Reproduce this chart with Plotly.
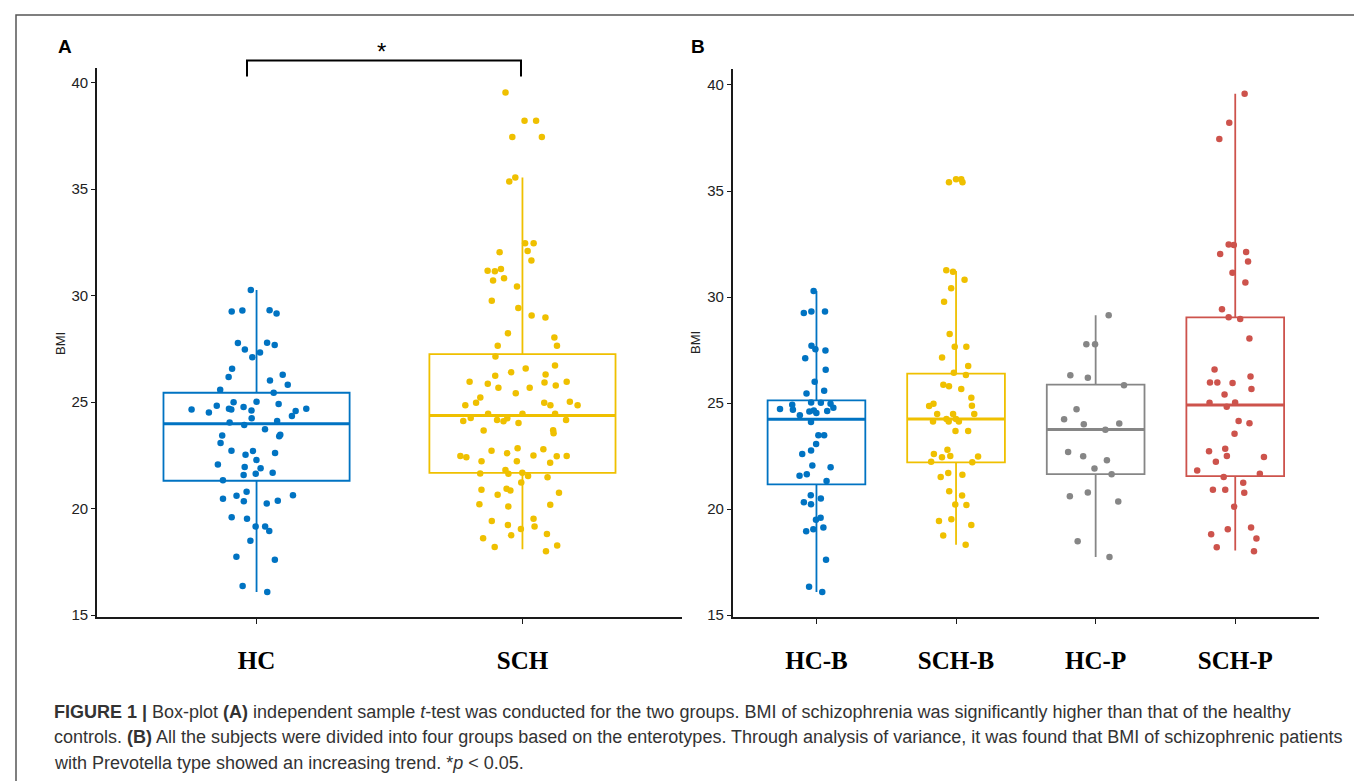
import plotly.graph_objects as go

W, H = 1362, 781


def px(x):
    return x / W


def py(y):
    return 1 - y / H


# ---------------- data ----------------
groups_a = ["HC", "SCH"]
hc_a = [30.26, 29.31, 29.16, 29.25, 29.30, 27.79, 27.68, 27.78, 27.47, 27.33, 27.11, 26.57,
        26.18, 26.29, 26.02, 25.82, 25.58, 25.44, 25.00, 25.02, 24.77, 24.69, 24.61, 24.65,
        24.91, 24.83, 24.65, 24.69, 24.58, 24.51, 24.35, 24.24, 24.12, 24.04, 23.93, 23.73,
        23.47, 23.44, 23.40, 23.08, 22.71, 22.72, 22.61, 22.53, 22.29, 22.07, 21.96, 21.90,
        21.64, 21.68, 21.58, 21.33, 20.79, 20.61, 20.63, 20.47, 20.35, 20.24, 20.37, 19.60,
        19.53, 19.16, 19.16, 18.95, 18.49, 17.74, 17.60, 16.37, 16.09]
sch_a = [39.53, 38.21, 38.21, 37.44, 37.44, 35.54, 35.36, 32.46, 32.46, 32.10, 32.04, 31.65,
         31.25, 31.17, 31.14, 30.81, 30.71, 30.43, 29.76, 29.42, 29.07, 28.97, 28.23, 28.04,
         27.65, 27.65, 27.14, 26.72, 26.58, 26.40, 26.30, 26.24, 25.96, 25.92, 25.86, 25.96,
         25.78, 25.67, 25.67, 25.42, 25.22, 25.02, 24.97, 24.97, 24.85, 24.85, 24.85, 24.46,
         24.46, 24.46, 24.24, 24.26, 24.12, 24.16, 24.16, 24.10, 24.02, 23.67, 23.68, 23.54,
         22.83, 22.79, 22.72, 22.60, 22.47, 22.47, 22.50, 22.46, 22.41, 22.23, 22.23, 22.16,
         21.82, 21.68, 21.65, 21.64, 21.53, 21.48, 21.23, 20.85, 20.89, 20.75, 20.93, 20.65,
         20.21, 20.10, 20.18, 19.53, 19.42, 19.23, 19.16, 19.05, 18.81, 18.75, 18.61, 18.27,
         18.20, 18.00]
q1_a = [21.31, 21.68]
med_a = [23.98, 24.37]
q3_a = [25.44, 27.25]
lo_a = [16.09, 18.10]
hi_a = [30.26, 35.54]

groups_b = ["HC-B", "SCH-B", "HC-P", "SCH-P"]
hc_b = [30.28, 29.32, 29.25, 29.32, 27.70, 27.48, 27.54, 27.12, 26.57, 26.01, 25.58, 25.45,
        25.02, 24.97, 25.03, 24.78, 24.72, 24.60, 24.92, 24.63, 24.53, 24.43, 24.65, 24.69,
        24.11, 23.48, 23.48, 23.07, 22.76, 22.60, 22.06, 21.98, 21.64, 21.57, 21.33, 20.65,
        20.50, 20.23, 20.33, 19.60, 19.50, 18.96, 19.05, 19.14, 17.62, 16.34, 16.09]
sch_b = [35.56, 35.41, 35.56, 35.41, 31.26, 31.19, 30.81, 30.42, 29.78, 28.26, 27.66, 27.66,
         27.15, 26.75, 26.43, 26.33, 25.87, 25.79, 25.67, 25.25, 24.97, 24.88, 24.86, 24.49,
         24.49, 24.49, 24.25, 24.13, 24.13, 24.13, 24.25, 23.68, 23.69, 22.80, 22.60, 22.48,
         22.45, 22.51, 22.21, 22.24, 21.70, 21.62, 21.51, 20.84, 20.64, 20.19, 20.22, 19.44,
         19.52, 19.25, 18.76, 18.32]
hc_p = [29.14, 27.78, 27.78, 26.20, 26.31, 25.84, 24.71, 24.24, 24.04, 24.00, 23.74, 22.70,
        22.50, 22.31, 21.92, 21.65, 20.78, 20.61, 20.36, 18.49, 17.74]
sch_p = [39.58, 38.22, 37.45, 32.48, 32.46, 32.12, 32.03, 31.68, 31.14, 30.69, 29.43, 29.05,
         28.96, 28.04, 26.59, 26.25, 25.95, 25.97, 25.67, 25.97, 25.41, 25.02, 25.03, 24.83,
         24.16, 24.05, 23.55, 22.85, 22.73, 22.51, 22.46, 22.23, 21.82, 21.67, 21.51, 21.25,
         20.92, 20.77, 20.92, 20.11, 19.14, 19.05, 18.62, 18.82, 18.20, 18.01]
q1_b = [21.17, 22.21, 21.65, 21.56]
med_b = [24.24, 24.25, 23.76, 24.91]
q3_b = [25.13, 26.39, 25.87, 29.04]
lo_b = [16.09, 18.32, 17.74, 18.05]
hi_b = [30.28, 31.23, 29.14, 39.58]

y_ticks = [15, 20, 25, 30, 35, 40]

colors_a = ["#0073C2", "#EFC000"]
colors_b = ["#0073C2", "#EFC000", "#868686", "#CD534C"]

caption = [
    "<b>FIGURE 1 |</b> Box-plot <b>(A)</b> independent sample <i>t</i>-test was conducted for the two groups. "
    "BMI of schizophrenia was significantly higher than that of the healthy",
    "controls. <b>(B)</b> All the subjects were divided into four groups based on the enterotypes. "
    "Through analysis of variance, it was found that BMI of schizophrenic patients",
    "with Prevotella type showed an increasing trend. *<i>p</i> &lt; 0.05.",
]

# ---------------- figure ----------------
fig = go.Figure()
BOXW = 0.7


def add_group(name, vals, q1, med, q3, lo, hi, color, xa, ya):
    # box + whiskers
    fig.add_trace(go.Box(
        x=[name], q1=[q1], median=[med], q3=[q3], lowerfence=[lo], upperfence=[hi],
        boxpoints=False, width=BOXW, whiskerwidth=0,
        fillcolor="rgba(0,0,0,0)", line=dict(color=color, width=1.8),
        xaxis=xa, yaxis=ya, showlegend=False, hoverinfo="skip"))
    # thicker median line
    fig.add_trace(go.Box(
        x=[name], q1=[med], median=[med], q3=[med], lowerfence=[med], upperfence=[med],
        boxpoints=False, width=BOXW, whiskerwidth=0,
        fillcolor="rgba(0,0,0,0)", line=dict(color=color, width=3),
        xaxis=xa, yaxis=ya, showlegend=False, hoverinfo="skip"))
    # jittered points
    fig.add_trace(go.Box(
        x=[name] * len(vals), y=vals, boxpoints="all", jitter=0.8, pointpos=0,
        width=BOXW, fillcolor="rgba(0,0,0,0)", line=dict(color=color, width=0),
        marker=dict(color=color, size=6.5, line=dict(width=0)),
        xaxis=xa, yaxis=ya, showlegend=False, hoveron="points"))


vals_a = [hc_a, sch_a]
for i, g in enumerate(groups_a):
    add_group(g, vals_a[i], q1_a[i], med_a[i], q3_a[i], lo_a[i], hi_a[i], colors_a[i], "x", "y")

vals_b = [hc_b, sch_b, hc_p, sch_p]
for i, g in enumerate(groups_b):
    add_group(g, vals_b[i], q1_b[i], med_b[i], q3_b[i], lo_b[i], hi_b[i], colors_b[i], "x2", "y2")

axis_common = dict(showline=True, linecolor="#1a1a1a", linewidth=1.6, showgrid=False,
                   zeroline=False, ticks="outside", tickcolor="#1a1a1a", tickwidth=1.2)
xfont = dict(family="Liberation Serif, Times New Roman, serif", size=25, color="#000000",
             weight="bold")
yfont = dict(family="Liberation Sans Narrow, Arial Narrow, Liberation Sans, Arial", size=15,
             color="#222222")

fig.update_layout(
    width=W, height=H, margin=dict(l=0, r=0, t=0, b=0),
    paper_bgcolor="white", plot_bgcolor="white", boxmode="overlay", showlegend=False,
    xaxis=dict(domain=[px(89), px(674)], type="category", categoryorder="array",
               categoryarray=groups_a, range=[-0.6, 1.6], anchor="y", ticklen=5,
               tickfont=xfont, ticklabelstandoff=15, **axis_common),
    yaxis=dict(domain=[py(614.4), py(60.2)], range=[14.92, 40.70], anchor="x",
               tickvals=y_ticks, ticklen=4, tickfont=yfont, **axis_common),
    xaxis2=dict(domain=[px(724.7), px(1311)], type="category", categoryorder="array",
                categoryarray=groups_b, range=[-0.6, 3.6], anchor="y2", ticklen=5,
                tickfont=xfont, ticklabelstandoff=15, **axis_common),
    yaxis2=dict(domain=[py(614.4), py(61.6)], range=[14.92, 40.75], anchor="x2",
                tickvals=y_ticks, ticklen=4, tickfont=yfont, **axis_common),
)

lab_font = dict(family="Liberation Sans, Arial", size=19, color="#000000", weight="bold")
ann = [
    dict(text="A", x=px(48), y=py(39), xanchor="left", yanchor="middle", font=lab_font),
    dict(text="B", x=px(681), y=py(39), xanchor="left", yanchor="middle", font=lab_font),
    dict(text="BMI", x=px(53), y=py(338), textangle=-90, xanchor="center", yanchor="middle",
         font=dict(family="Liberation Sans, Arial", size=13, color="#222222")),
    dict(text="BMI", x=px(688), y=py(338), textangle=-90, xanchor="center", yanchor="middle",
         font=dict(family="Liberation Sans, Arial", size=13, color="#222222")),
    dict(text="*", x=px(373), y=py(44), xanchor="center", yanchor="middle",
         font=dict(family="Liberation Sans, Arial", size=24, color="#000000")),
]
for k, line in enumerate(caption):
    ann.append(dict(text=line, x=px(44), y=py(710 + 26 * k), xanchor="left", yanchor="middle",
                    align="left",
                    font=dict(family="Liberation Sans, Arial", size=18, color="#333333")))
for a in ann:
    a.update(xref="paper", yref="paper", showarrow=False)
fig.update_layout(annotations=ann)

bracket = "M {:.5f},{:.5f} L {:.5f},{:.5f} L {:.5f},{:.5f} L {:.5f},{:.5f}".format(
    px(239), py(69), px(239), py(53), px(513), py(53), px(513), py(69))
fig.update_layout(shapes=[
    dict(type="path", path=bracket, xref="paper", yref="paper",
         line=dict(color="#000000", width=2)),
    dict(type="rect", xref="paper", yref="paper", x0=px(8), y0=py(800), x1=px(1358), y1=py(7),
         line=dict(color="#555555", width=1.5), fillcolor="rgba(0,0,0,0)"),
])

fig.write_html("out.html")
